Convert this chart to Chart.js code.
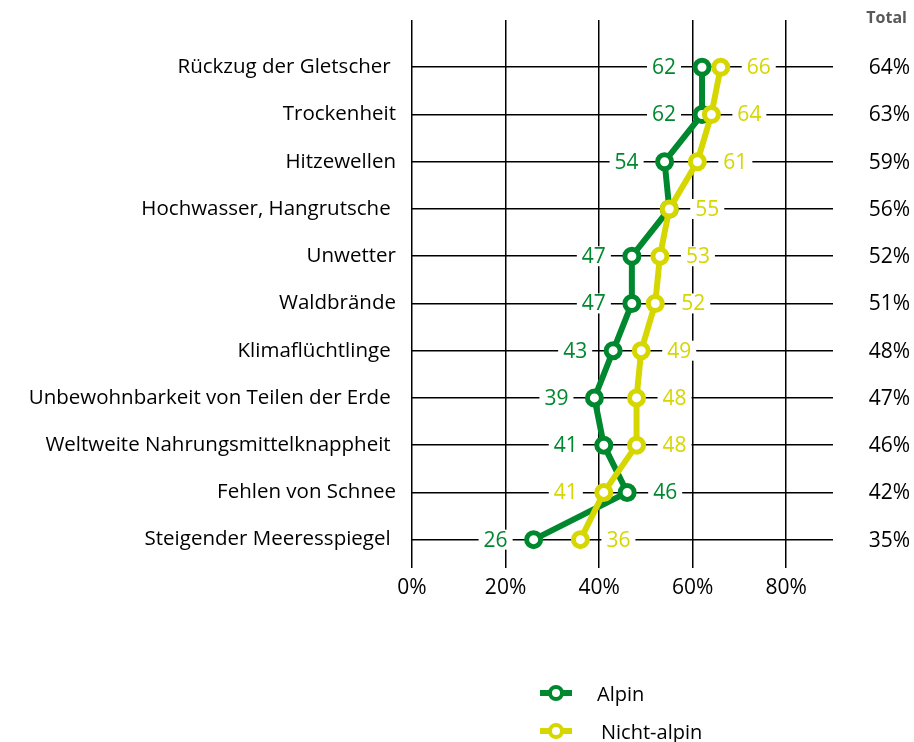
<!DOCTYPE html>
<html>
<head>
<meta charset="utf-8">
<script src="https://cdn.jsdelivr.net/npm/chart.js@4.4.1/dist/chart.umd.min.js"></script>
<style>
body { margin: 0; background: #fff; font-family: 'Open Sans', sans-serif; }
#wrap { position: relative; width: 914px; height: 742px; }
.leg { position: absolute; display: flex; align-items: center; font-size: 20px; color: #000; height: 16px; }
.mk { position: relative; width: 32px; height: 16px; }
.mk .ln { position: absolute; left: 0; right: 0; top: 5px; height: 6px; }
.mk .dot { position: absolute; left: 8px; top: 0; width: 8px; height: 8px; border: 4px solid; border-radius: 50%; background: #fff; }
</style>
</head>
<body>
<div id="wrap">
    <canvas id="chart" width="914" height="742"></canvas>
    <div class="leg" style="left:540px;top:685px">
        <div class="mk"><div class="ln" style="background:#00882f"></div><div class="dot" style="border-color:#00882f"></div></div>
        <span style="margin-left:25px">Alpin</span>
    </div>
    <div class="leg" style="left:540px;top:723px">
        <div class="mk"><div class="ln" style="background:#d6d600"></div><div class="dot" style="border-color:#d6d600"></div></div>
        <span style="margin-left:29px">Nicht-alpin</span>
    </div>
</div>
<script>
const categories = [
    'Rückzug der Gletscher ',
    'Trockenheit',
    'Hitzewellen',
    'Hochwasser, Hangrutsche ',
    'Unwetter',
    'Waldbrände',
    'Klimaflüchtlinge ',
    'Unbewohnbarkeit von Teilen der Erde ',
    'Weltweite Nahrungsmittelknappheit ',
    'Fehlen von Schnee',
    'Steigender Meeresspiegel '
];
const alpin = [62, 62, 54, 55, 47, 47, 43, 39, 41, 46, 26];
const nichtAlpin = [66, 64, 61, 55, 53, 52, 49, 48, 48, 41, 36];
const total = [64, 63, 59, 56, 52, 51, 48, 47, 46, 42, 35];
const xTicks = [0, 20, 40, 60, 80];

const GREEN = '#00882f';
const YELLOW = '#d6d600';
const FONT = '"Open Sans", sans-serif';

// value labels next to the points, plus the Total column on the right
const labelPlugin = {
    id: 'valueLabels',
    beforeDatasetsDraw(chart) {
        const ctx = chart.ctx;
        const x = chart.scales.x;
        const y = chart.scales.y;
        ctx.save();
        ctx.font = '21px ' + FONT;
        ctx.textBaseline = 'middle';
        ctx.textAlign = 'center';
        categories.forEach((c, i) => {
            const yy = y.getPixelForValue(i);
            const a = alpin[i];
            const n = nichtAlpin[i];
            const items = [];
            if (a !== n) items.push({ v: a, color: GREEN, side: a < n ? -1 : 1 });
            items.push({ v: n, color: YELLOW, side: n < a ? -1 : 1 });
            items.forEach(it => {
                const txt = String(it.v);
                const cx = x.getPixelForValue(it.v) + it.side * 38;
                const w = ctx.measureText(txt).width + 10;
                ctx.fillStyle = '#fff';
                ctx.fillRect(cx - w / 2, yy - 10, w, 20);
                ctx.fillStyle = it.color;
                ctx.fillText(txt, cx, yy + 1);
            });
        });

        ctx.textAlign = 'right';
        ctx.fillStyle = '#000';
        total.forEach((t, i) => {
            ctx.fillText(t + '%', 910, y.getPixelForValue(i) + 1);
        });
        ctx.font = 'bold 16px ' + FONT;
        ctx.fillStyle = '#595959';
        ctx.fillText('Total', 907, 18);
        ctx.restore();
    }
};

new Chart(document.getElementById('chart'), {
    type: 'line',
    data: {
        datasets: [
            {
                label: 'Alpin',
                data: alpin.map((v, i) => ({ x: v, y: i })),
                borderColor: GREEN,
                borderWidth: 6,
                pointRadius: 7,
                pointBorderWidth: 5,
                pointBackgroundColor: '#fff',
                pointBorderColor: GREEN,
                order: 1
            },
            {
                label: 'Nicht-alpin',
                data: nichtAlpin.map((v, i) => ({ x: v, y: i })),
                borderColor: YELLOW,
                borderWidth: 6,
                pointRadius: 7,
                pointBorderWidth: 5,
                pointBackgroundColor: '#fff',
                pointBorderColor: YELLOW,
                order: 0
            }
        ]
    },
    options: {
        responsive: false,
        animation: false,
        devicePixelRatio: 1,
        layout: { padding: { top: 20, right: 81, bottom: 134, left: 0 } },
        plugins: {
            legend: { display: false },
            tooltip: { enabled: false }
        },
        scales: {
            x: {
                type: 'linear',
                min: 0,
                max: 90,
                afterBuildTicks: s => { s.ticks = xTicks.map(v => ({ value: v })); },
                afterFit: s => { s.height = 40; s.paddingLeft = 0; s.paddingRight = 0; },
                ticks: {
                    callback: v => v + '%',
                    font: { family: FONT, size: 21 },
                    color: '#000',
                    padding: 7
                },
                grid: { color: '#000', lineWidth: 1.5, drawTicks: false },
                border: { display: false }
            },
            y: {
                type: 'linear',
                reverse: true,
                min: -1,
                max: 10.6,
                afterBuildTicks: s => { s.ticks = categories.map((c, i) => ({ value: i })); },
                afterFit: s => { s.width = 412; s.paddingTop = 0; s.paddingBottom = 0; },
                ticks: {
                    callback: v => categories[v],
                    font: { family: FONT, size: 20.5 },
                    color: '#000',
                    padding: 16
                },
                grid: { color: '#000', lineWidth: 1.5, drawTicks: false },
                border: { display: false }
            }
        }
    },
    plugins: [labelPlugin]
});
</script>
</body>
</html>
